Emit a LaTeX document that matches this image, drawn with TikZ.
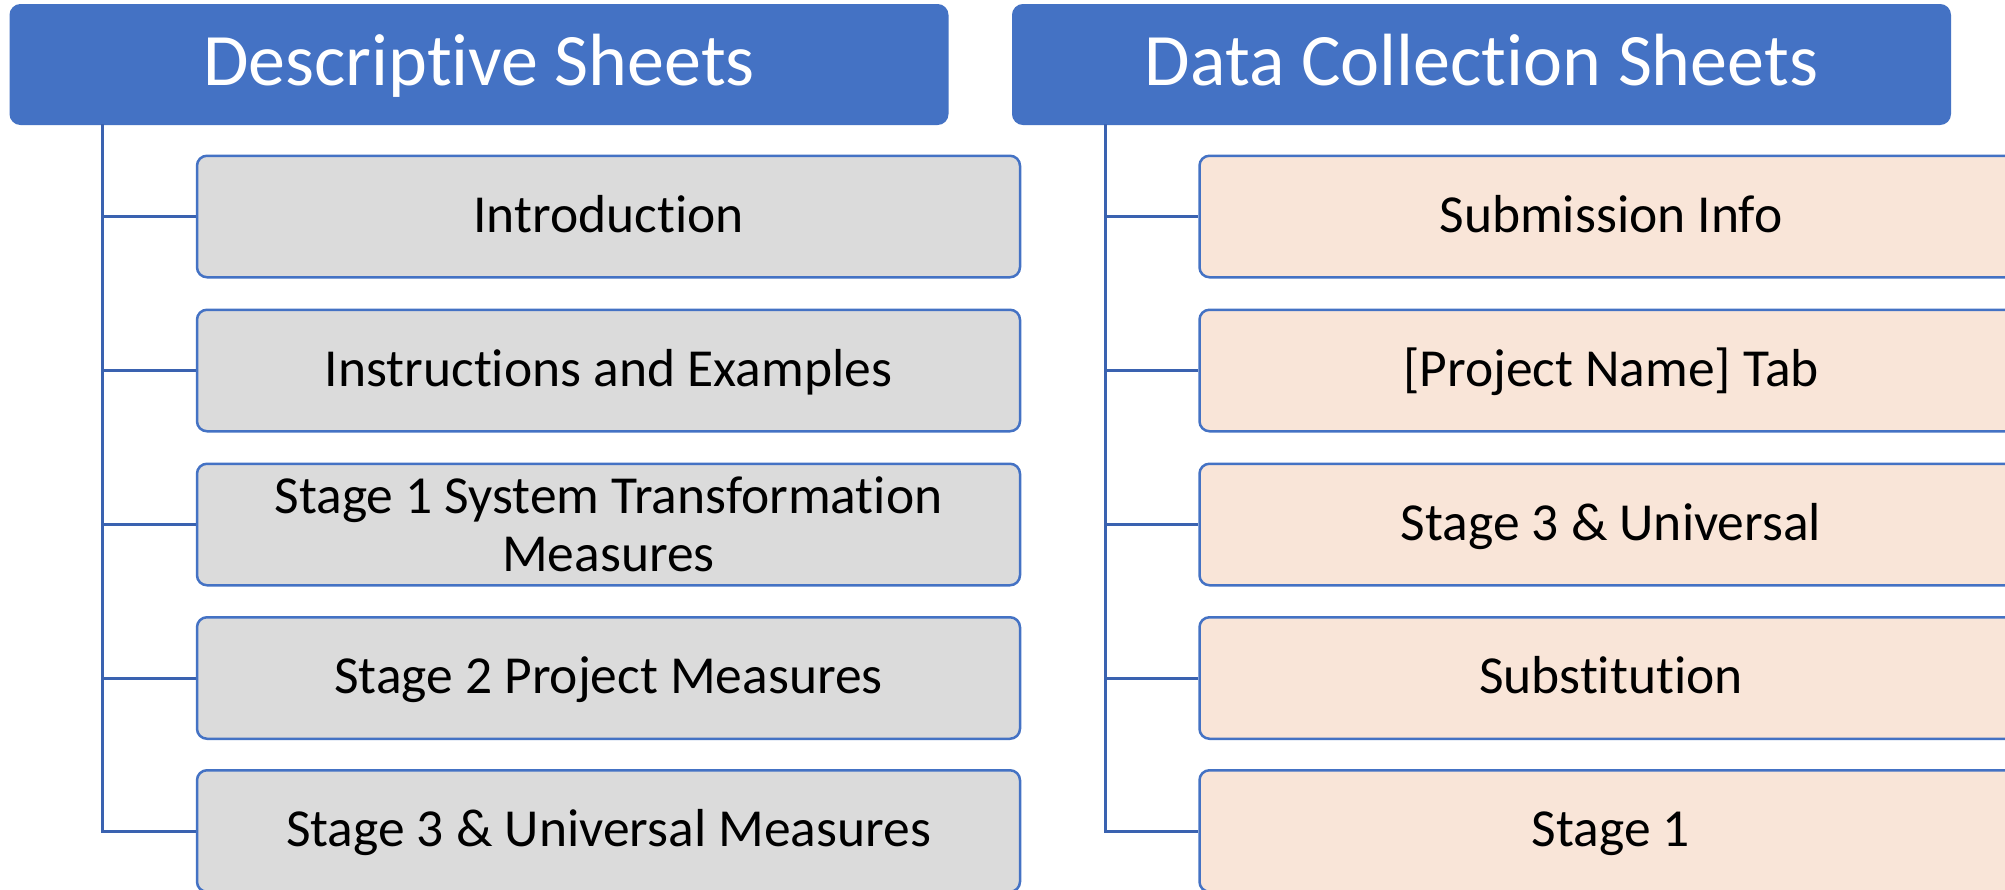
\documentclass[tikz,border=0pt]{standalone}
\usepackage{fontspec}
\setmainfont[Ligatures={NoCommon}]{Carlito}
\definecolor{hdrblue}{HTML}{4472C4}
\definecolor{connblue}{HTML}{3A62B0}
\definecolor{boxgray}{HTML}{DBDBDB}
\definecolor{boxpeach}{HTML}{F9E5D8}
\tikzset{
  header/.style={draw=hdrblue, line width=2pt, fill=hdrblue, rounded corners=10pt,
    minimum width=937pt, minimum height=119pt, inner sep=0pt, text=white,
    text height=57.7pt, text depth=16.7pt,
    font=\fontsize{74pt}{80pt}\selectfont},
  itembox/.style={draw=hdrblue, line width=2.5pt, rounded corners=10pt,
    minimum width=823pt, minimum height=121.5pt, inner sep=0pt, align=center,
    font=\fontsize{53.5pt}{58pt}\selectfont},
  oneline/.style={text height=42.8pt, text depth=11.8pt},
  graybox/.style={itembox, fill=boxgray},
  peachbox/.style={itembox, fill=boxpeach},
  conn/.style={draw=connblue, line width=3pt}
}
\begin{document}
\begin{tikzpicture}[x=1pt,y=-1pt]
\useasboundingbox (0,0) rectangle (2005,889);
\clip (0,0) rectangle (2005,889);
\fill[white] (0,0) rectangle (2005,889);
% headers
\node[header] (hL) at (479,64.5) {Descriptive Sheets};
\node[header] (hR) at (1481.5,64.5) {Data Collection Sheets};
% left column
\node[graybox, oneline] (l1) at (608.5,216.5) {Introduction};
\node[graybox, oneline] (l2) at (608.5,370.5) {Instructions and Examples};
\node[graybox] (l3) at (608.5,524.5) {Stage 1 System Transformation\\Measures};
\node[graybox, oneline] (l4) at (608.5,678) {Stage 2 Project Measures};
\node[graybox, oneline] (l5) at (608.5,831) {Stage 3 \& Universal Measures};
% right column
\node[peachbox, oneline] (r1) at (1611,216.5) {Submission Info};
\node[peachbox, oneline] (r2) at (1611,370.5) {[Project Name] Tab};
\node[peachbox, oneline] (r3) at (1611,524.5) {Stage 3 \& Universal};
\node[peachbox, oneline] (r4) at (1611,678) {Substitution};
\node[peachbox, oneline] (r5) at (1611,831) {Stage 1};
% trunks
\coordinate (tL) at (102,124);
\coordinate (tR) at (1105,124);
\foreach \i in {1,...,5}{
  \draw[conn] (tL) |- (l\i.west);
  \draw[conn] (tR) |- (r\i.west);
}
\end{tikzpicture}
\end{document}
